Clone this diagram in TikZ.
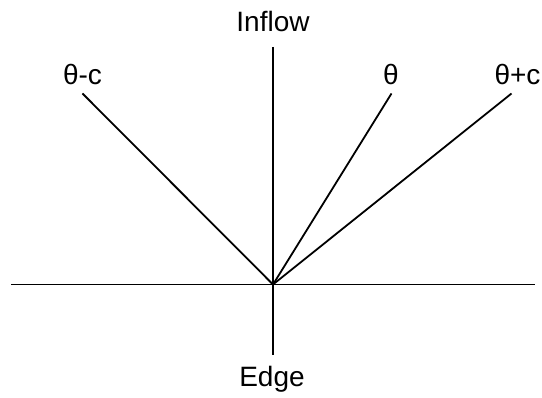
\documentclass[tikz,border=0pt]{standalone}
\usepackage{fontspec}
\setmainfont{Liberation Sans}
\begin{document}
\begin{tikzpicture}[x=1pt,y=-1pt,
  lbl/.style={font=\fontsize{28}{30}\selectfont, inner sep=0pt},
  ln/.style={line width=1.8pt, black}]
\useasboundingbox (0,0) rectangle (542,398);
\coordinate (O) at (273,284.5);
\coordinate (L) at (11,284.5);
\coordinate (R) at (535,284.5);
\coordinate (T) at (273,47);
\coordinate (B) at (273,355);
\coordinate (Pm) at (82.5,93.5);
\coordinate (P0) at (391.5,93.5);
\coordinate (Pp) at (511.5,93.5);
\node[lbl] (inflow) at (273,21) {Inflow};
\node[lbl] (edge) at (272,379) {Edge};
\node[lbl] (tm) at (82.5,75) {θ-c};
\node[lbl] (t0) at (391,75) {θ};
\node[lbl] (tp) at (517.5,75) {θ+c};
\draw[ln] (L) -- (R);
\draw[ln] (T) -- (B);
\draw[ln] (O) -- (Pm);
\draw[ln] (O) -- (P0);
\draw[ln] (O) -- (Pp);
\end{tikzpicture}
\end{document}
